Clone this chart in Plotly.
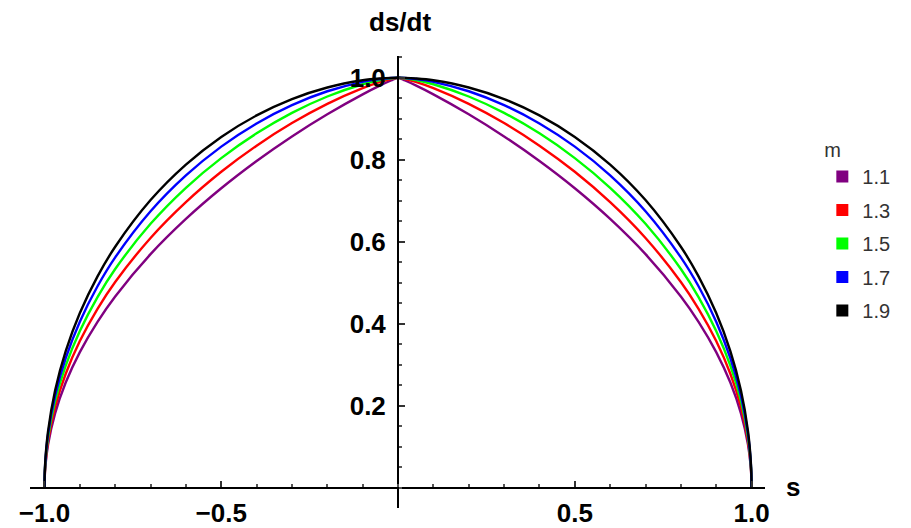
import plotly.graph_objects as go

# s values on the right half (left half is the mirror image)
s_half = [0, 0.02, 0.05, 0.1, 0.2, 0.3, 0.4, 0.5, 0.6, 0.7, 0.8, 0.85, 0.9, 0.94, 0.97, 0.99, 0.998, 1.0]

m_labels = ["1.1", "1.3", "1.5", "1.7", "1.9"]
v_m11 = [1.0, 0.9932, 0.9813, 0.9595, 0.9109, 0.8568, 0.7969, 0.7304, 0.6556, 0.5697, 0.4665, 0.4046, 0.3308, 0.2565, 0.1815, 0.1048, 0.0469, 0.0]
v_m13 = [1.0, 0.9969, 0.9898, 0.9746, 0.9363, 0.8894, 0.8343, 0.7706, 0.6966, 0.6092, 0.5018, 0.4364, 0.3578, 0.2780, 0.1970, 0.1139, 0.0510, 0.0]
v_m15 = [1.0, 0.9986, 0.9944, 0.9841, 0.9542, 0.9142, 0.8643, 0.8040, 0.7316, 0.6437, 0.5334, 0.4651, 0.3823, 0.2977, 0.2113, 0.1223, 0.0548, 0.0]
v_m17 = [1.0, 0.9994, 0.9969, 0.9900, 0.9670, 0.9332, 0.8885, 0.8320, 0.7618, 0.6743, 0.5618, 0.4913, 0.4049, 0.3160, 0.2246, 0.1302, 0.0583, 0.0]
v_m19 = [1.0, 0.9997, 0.9983, 0.9937, 0.9762, 0.9479, 0.9081, 0.8556, 0.7881, 0.7016, 0.5878, 0.5154, 0.4260, 0.3331, 0.2371, 0.1375, 0.0616, 0.0]
series_values = [v_m11, v_m13, v_m15, v_m17, v_m19]
colors = ["#800080", "#FF0000", "#00FF00", "#0000FF", "#000000"]

x_ticks = [-1.0, -0.5, 0.5, 1.0]
x_tick_text = ["\u22121.0", "\u22120.5", "0.5", "1.0"]
y_ticks = [0.2, 0.4, 0.6, 0.8, 1.0]
y_tick_text = ["0.2", "0.4", "0.6", "0.8", "1.0"]

x_range = [-1.041, 1.038]
y_range = [-0.0495, 1.053]

fig = go.Figure()
for lab, vals, col in zip(m_labels, series_values, colors):
    xs = [-s for s in reversed(s_half)] + s_half[1:]
    ys = list(reversed(vals)) + vals[1:]
    fig.add_trace(go.Scatter(x=xs, y=ys, mode="lines",
                             line=dict(color=col, width=2.4, shape="spline", smoothing=1.0),
                             showlegend=False, hoverinfo="skip"))
for lab, col in zip(m_labels, colors):
    fig.add_trace(go.Scatter(x=[None], y=[None], mode="markers", name=lab,
                             legendgroup=lab,
                             marker=dict(symbol="square", size=14, color=col)))

tick_font = dict(family="Liberation Sans, Arial, sans-serif", size=26, color="#000000", weight="bold")
legend_font = dict(family="Liberation Sans, Arial, sans-serif", size=20, color="#333333")

# the page adds an 8px body margin, so the figure is drawn 8px smaller than the window
fig.update_layout(
    width=903, height=520,
    margin=dict(l=22, r=146, t=48, b=20, autoexpand=False),
    paper_bgcolor="white", plot_bgcolor="white",
    showlegend=True,
    legend=dict(
        title=dict(text="m", font=legend_font),
        font=legend_font,
        x=1.078, xanchor="left", y=0.834, yanchor="top",
        tracegroupgap=4.5, itemsizing="constant", bgcolor="rgba(0,0,0,0)",
    ),
    xaxis=dict(
        range=x_range, showgrid=False, zeroline=False, automargin=False,
        showline=True, linecolor="#000000", linewidth=2,
        anchor="free", position=(0 - y_range[0]) / (y_range[1] - y_range[0]),
        tickmode="array", tickvals=x_ticks, ticktext=x_tick_text,
        ticks="inside", ticklen=6, tickwidth=2, tickcolor="#333333",
        minor=dict(dtick=0.1, tick0=0, ticks="inside", ticklen=3, tickwidth=1.5, tickcolor="#555555"),
        tickfont=tick_font, ticklabelstandoff=2,
    ),
    yaxis=dict(
        range=y_range, showgrid=False, zeroline=False, automargin=False,
        showline=True, linecolor="#000000", linewidth=2,
        anchor="free", position=(0 - x_range[0]) / (x_range[1] - x_range[0]),
        tickmode="array", tickvals=y_ticks, ticktext=y_tick_text,
        ticks="inside", ticklen=6, tickwidth=2, tickcolor="#333333",
        minor=dict(dtick=0.05, tick0=0, ticks="inside", ticklen=3, tickwidth=1.5, tickcolor="#555555"),
        tickfont=tick_font, ticklabelstandoff=6,
    ),
    annotations=[
        dict(text="s", x=(793 - 30) / 735, y=(508 - 487) / 452, xref="paper", yref="paper",
             showarrow=False, font=tick_font, xanchor="center", yanchor="middle"),
        dict(text="ds/dt", x=(400 - 30) / 735, y=(508 - 22) / 452, xref="paper", yref="paper",
             showarrow=False, font=tick_font, xanchor="center", yanchor="middle"),
    ],
)

fig.write_html("out.html")
